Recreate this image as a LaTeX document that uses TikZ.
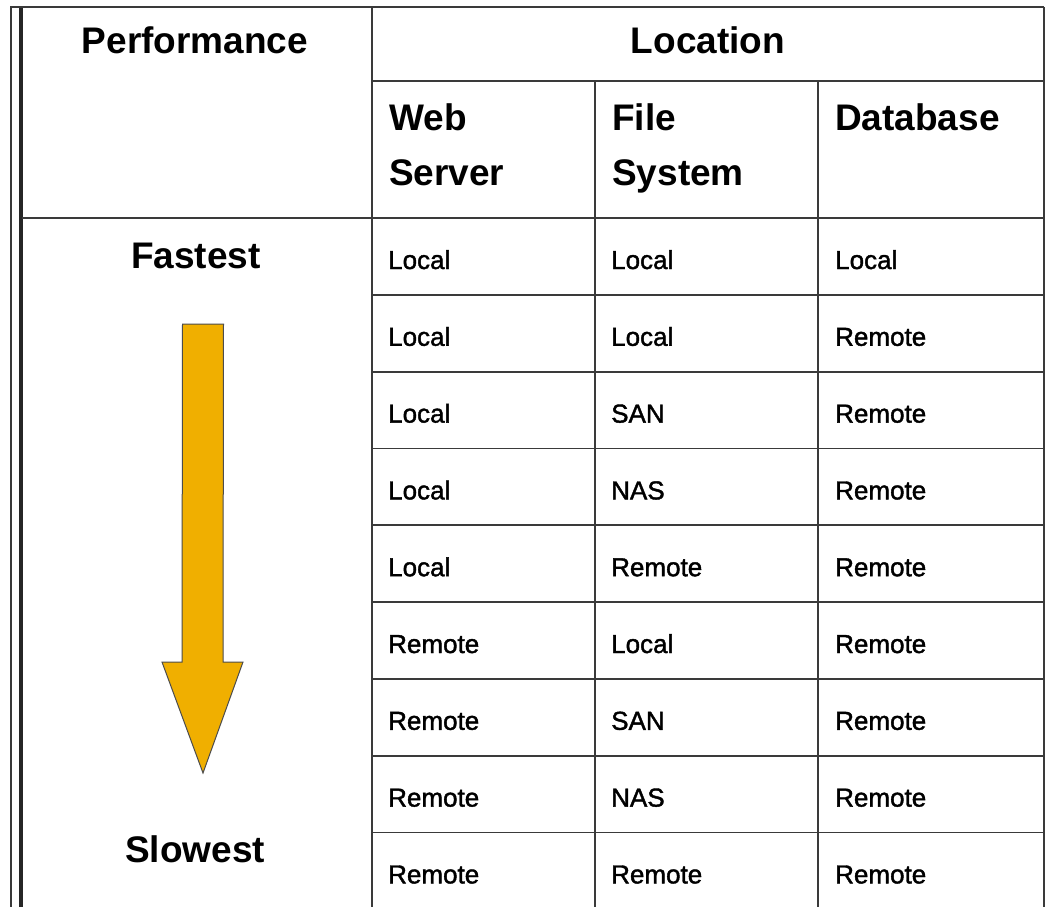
\documentclass[tikz,border=0pt]{standalone}
\usepackage{fontspec}
\setmainfont{Liberation Sans}
\newfontfamily\cellfont[FakeBold=1.5]{Liberation Sans}
\definecolor{arrowgold}{HTML}{F0AF00}
\definecolor{gridline}{HTML}{3A3A3A}
\begin{document}
\begin{tikzpicture}[x=1pt,y=-1pt,
  grid/.style={draw=gridline,line width=1.8pt},
  head/.style={font=\fontsize{37}{55}\selectfont\bfseries,inner sep=0pt},
  headl/.style={head,anchor=base west,align=left},
  cell/.style={font=\cellfont\fontsize{26}{30}\selectfont,inner sep=0pt,anchor=base west}]
\useasboundingbox (0,0) rectangle (1045,907);
\fill[white] (0,0) rectangle (1045,907);
% left double border
\draw[draw=gridline,line width=1.8pt] (11,6.5) -- (11,907);
\draw[draw=black!85,line width=4pt] (20.5,7) -- (20.5,907);
% outer top and right
\draw[grid] (10,7) -- (1044,7);
\draw[grid] (1044,7) -- (1044,907);
% verticals
\draw[grid] (372,7) -- (372,907);
\draw[grid] (595,81) -- (595,907);
\draw[grid] (818,81) -- (818,907);
% horizontals
\draw[grid] (372,81) -- (1044,81);
\draw[grid] (22,218) -- (1044,218);
\foreach \k in {1,...,8}{
  \draw[grid] (372,{218+76.8*\k}) -- (1044,{218+76.8*\k});
}
% header texts
\node[head,anchor=base] (perf) at (195,54) {Performance};
\node[head,anchor=base] (loc) at (708,54) {Location};
\node[headl] (web) at (389,185) {Web\\Server};
\node[headl] (fs) at (612,185) {File\\System};
\node[headl] (db) at (835,130) {Database};
\node[head,anchor=base] (fast) at (196,268) {Fastest};
\node[head,anchor=base] (slow) at (195,862) {Slowest};
% arrow
\coordinate (atop) at (203,324);
\coordinate (atip) at (203,773);
\draw[fill=arrowgold,draw=black!70,line width=1pt,line join=miter]
  ([xshift=-20.5pt]atop) -- ([xshift=20.5pt]atop) -- (223,662) -- (243,662)
  -- (atip) -- (162,662) -- (182,662) -- cycle;
% cells
\foreach \r/\a/\b/\c in {0/Local/Local/Local,1/Local/Local/Remote,2/Local/SAN/Remote,
  3/Local/NAS/Remote,4/Local/Remote/Remote,5/Remote/Local/Remote,6/Remote/SAN/Remote,
  7/Remote/NAS/Remote,8/Remote/Remote/Remote}{
  \node[cell] (c\r a) at (388,{269+76.8*\r}) {\a};
  \node[cell] (c\r b) at (611,{269+76.8*\r}) {\b};
  \node[cell] (c\r c) at (835,{269+76.8*\r}) {\c};
}
\end{tikzpicture}
\end{document}
